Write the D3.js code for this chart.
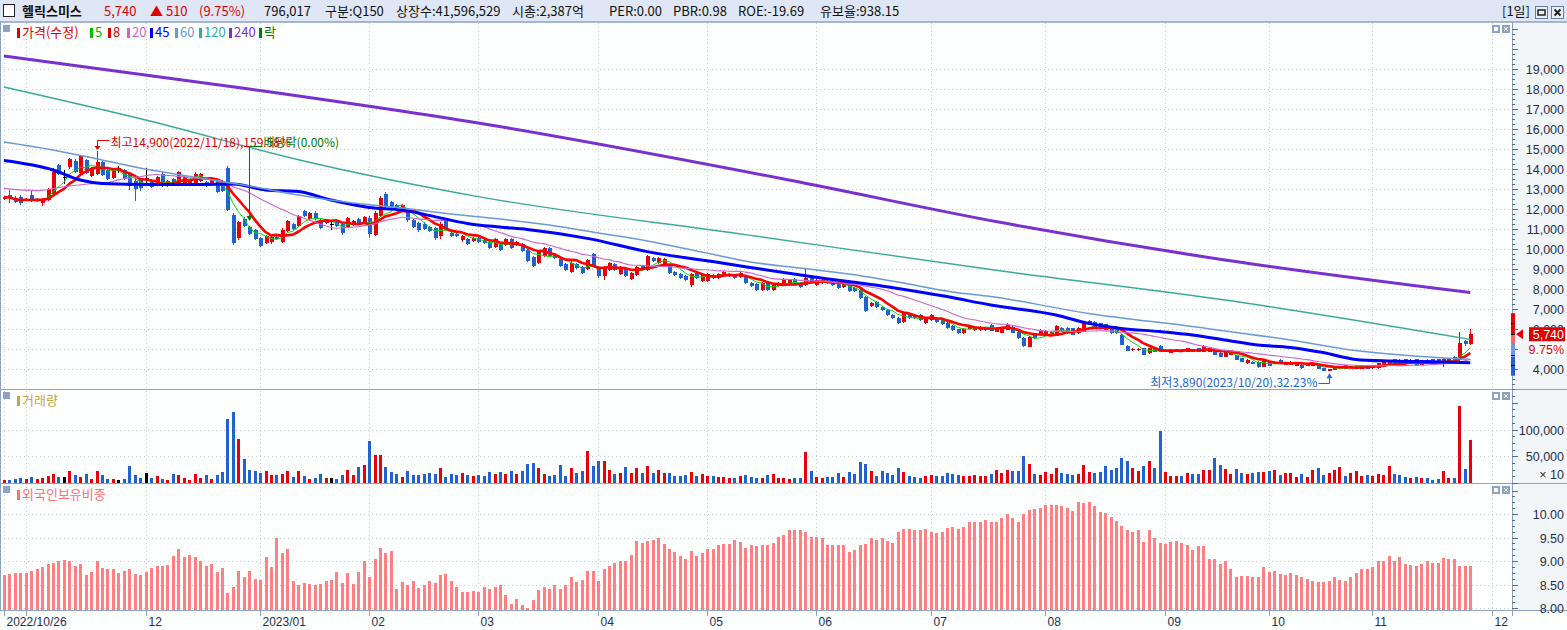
<!DOCTYPE html>
<html>
<head>
<meta charset="utf-8">
<title>헬릭스미스 일봉</title>
<script src="https://cdn.jsdelivr.net/npm/d3@7"></script>
<style>
  html, body { margin: 0; padding: 0; background: #fff; }
  svg { display: block; }
</style>
</head>
<body>
<svg id="chart" width="1567" height="630"></svg>
<script>
// ---------- data ----------
// trading calendar: weekdays from 2022-10-26, minus KRX holidays
var holidays = ["2022-12-30", "2023-01-23", "2023-01-24", "2023-03-01", "2023-05-01", "2023-05-05",
  "2023-05-29", "2023-06-06", "2023-08-15", "2023-09-28", "2023-09-29", "2023-10-02", "2023-10-03", "2023-10-09"];

var opens = [
  12500,12700,12550,12600,12450,12700,12400,12300,12450,12750,
  14200,13600,14100,14400,13800,14450,13650,13750,14350,13950,
  13550,14050,13950,13800,13400,13450,13550,13450,13200,13750,
  13200,13500,13250,13200,13300,13300,13400,13350,13250,13450,
  13400,14050,11700,10550,11500,11100,10950,10550,10300,10350,
  10600,10350,10900,11250,11150,11900,11500,11800,11450,11300,
  11250,11350,11250,11100,11200,11500,11300,11550,10700,11650,
  12750,12350,12200,11900,11950,11450,11300,11250,11100,11050,
  10650,11400,10800,10750,10450,10500,10400,10550,10450,10350,
  10100,10250,10200,10500,10200,10250,9950,9600,9300,9650,
  10050,9750,9500,9250,8850,9250,9100,9000,9750,9100,
  8650,8950,9250,8750,9000,8500,8700,9150,8950,9550,
  9300,9250,9150,8850,8750,8650,8200,8850,8400,8400,
  8700,8550,8650,8650,8700,8600,8650,8300,8250,7950,
  8350,7950,8150,8200,8200,8500,8300,8200,8600,8200,
  8300,8400,8350,8300,8100,8200,8050,7950,7600,7150,
  7350,7100,6950,6700,6550,6350,6750,6700,6700,6300,
  6450,6550,6450,6300,6150,5980,5780,6000,5950,5950,
  5950,6200,5870,5820,5950,6120,5870,5570,5120,5780,
  5700,5650,5650,5650,6030,6030,6030,5780,5870,6200,
  6370,6280,6230,6120,6120,5700,5150,4930,4950,5030,
  4780,5030,5150,4870,4820,4870,4980,4870,4980,5030,
  4870,4870,4950,4820,4620,4700,4700,4530,4280,4370,
  4370,4120,4370,4250,4450,4200,4200,4150,4200,4150,
  4150,4200,4030,3920,3950,4030,4200,4030,4000,4000,
  4150,4030,4030,4120,4150,4480,4450,4480,4250,4480,
  4200,4450,4480,4480,4320,4370,4620,4450,5400,5250
];
var highs = [
  12650,12950,12650,12700,12550,12900,12550,12550,13050,14050,
  14250,13950,14550,14500,14700,14500,14100,14900,14400,14000,
  14050,14150,14000,13850,13550,13500,14050,13500,13650,13850,
  13450,13550,13900,13650,13450,13850,13800,13400,13600,13500,
  13450,14150,11800,11400,11600,11150,11000,10600,10700,10700,
  10650,11050,11450,11300,11700,11950,11850,11900,11550,11450,
  11350,11400,11300,11600,11450,11550,11650,11650,11900,12650,
  12850,12400,12250,12250,12000,11500,11350,11350,11150,11100,
  11350,11450,10850,10800,10700,10550,10600,10600,10500,10400,
  10550,10300,10550,10550,10400,10300,10000,9650,9900,10100,
  10100,9800,9550,9300,9400,9300,9150,9500,9800,9150,
  9150,9350,9300,9150,9050,8850,9150,9200,9700,9600,
  9600,9550,9200,8900,8800,8700,8800,8900,8750,8800,
  8750,8800,8900,8800,8750,8850,8700,8350,8300,8350,
  8400,8250,8350,8550,8500,8550,8350,9050,8700,8500,
  8500,8450,8400,8350,8350,8250,8100,8000,7650,7350,
  7400,7150,7000,6750,6600,6850,6800,6750,6750,6600,
  6750,6600,6500,6350,6200,6020,6030,6200,6150,6150,
  6100,6250,6060,6060,6280,6150,5900,5600,5650,5800,
  5980,5930,5900,6180,6080,6080,6050,6100,6400,6430,
  6400,6300,6250,6150,6150,5730,5180,5030,5030,5050,
  5050,5050,5180,4980,4980,5000,5000,5050,5000,5050,
  5200,5050,4980,4850,4900,4900,4720,4550,4480,4400,
  4400,4480,4400,4400,4480,4350,4400,4350,4230,4300,
  4300,4230,4060,4000,4150,4170,4220,4170,4170,4170,
  4170,4220,4300,4400,4400,4500,4480,4500,4480,4500,
  4400,4480,4500,4500,4550,4560,4650,5870,5450,6000
];
var lows = [
  12450,12300,12300,12200,12400,12350,12350,12150,12400,12650,
  13700,13250,14000,13800,13750,13750,13600,13700,13650,13450,
  13500,13800,13450,12950,12400,12900,13300,13050,13150,13100,
  13100,13200,13200,13150,13250,13250,13350,13100,13200,12800,
  12850,11900,10200,10450,11100,10700,10450,10100,10250,10250,
  10450,10300,10850,10950,11100,11600,11450,11450,11000,11250,
  10950,11100,10700,11050,11150,11250,11250,10550,10650,11600,
  12000,12050,12050,11850,11350,11050,10850,10950,10850,10450,
  10500,10950,10600,10600,10350,10200,10350,10300,10250,10000,
  10050,9900,10150,10000,10150,9850,9350,9100,9250,9600,
  9600,9500,9100,8900,8800,9000,8750,8950,9100,8550,
  8450,8900,8900,8700,8600,8450,8650,8900,8900,9350,
  9250,9200,8750,8650,8500,8400,8100,8500,8350,8350,
  8500,8500,8600,8600,8500,8550,8250,8100,7900,7900,
  7900,7900,8100,8150,8150,8150,8050,8150,8250,8150,
  8250,8250,8150,8000,8050,7850,7850,7500,6850,7100,
  7050,6900,6650,6500,6250,6300,6500,6500,6400,6250,
  6400,6300,6200,6000,5900,5750,5750,5980,5920,5920,
  5900,5880,5850,5800,5930,5800,5500,5100,5080,5500,
  5680,5630,5630,5630,5850,5750,5680,5750,5850,6180,
  6100,6100,5930,5750,5750,5180,4900,4900,4920,4680,
  4750,4850,4850,4850,4800,4850,4850,4850,4850,4850,
  4850,4850,4680,4600,4600,4680,4430,4350,4250,4230,
  4050,4100,4130,4230,4250,4180,4180,4130,4000,4130,
  4130,3980,3900,3890,3930,4000,3980,4000,3980,3980,
  3980,4000,4000,4100,4130,4300,4250,4300,4230,4130,
  4180,4250,4300,4300,4080,4350,4430,4400,5150,5200
];
var closes = [
  12600,12550,12350,12300,12500,12400,12500,12450,13000,13850,
  13750,13600,14500,13850,14650,13800,14050,14350,13700,13500,
  14000,14050,13500,13150,13000,13050,13550,13100,13600,13150,
  13400,13250,13850,13600,13400,13750,13750,13150,13550,12850,
  12900,11950,10300,11350,11150,10750,10500,10150,10650,10600,
  10500,10950,11400,11000,11650,11650,11800,11500,11050,11400,
  11250,11150,10800,11550,11400,11300,11600,10750,11800,12550,
  12100,12100,12100,12200,11450,11100,10950,11000,10900,10550,
  11250,11000,10650,10650,10650,10250,10550,10350,10300,10050,
  10500,9950,10500,10050,10350,9900,9400,9150,9850,10050,
  9650,9550,9150,8950,9300,9050,8800,9450,9150,8650,
  9100,9300,8950,9100,8650,8800,9100,8950,9650,9400,
  9550,9500,8800,8700,8550,8450,8750,8550,8700,8750,
  8550,8750,8850,8750,8550,8800,8300,8150,7950,8300,
  7950,8200,8300,8500,8450,8200,8100,8550,8300,8450,
  8450,8300,8200,8050,8300,7900,7900,7550,6900,7300,
  7100,6950,6700,6550,6300,6800,6550,6550,6450,6550,
  6700,6350,6250,6050,5950,5780,6000,6170,6120,6120,
  6070,5920,6030,6030,6200,5820,5530,5150,5620,5530,
  5950,5900,5870,6150,5870,5780,5700,6070,6370,6400,
  6120,6120,5950,5780,5780,5200,4920,5000,5000,4700,
  5030,4870,4870,4950,4950,4980,4870,5030,4870,4870,
  5150,5030,4700,4620,4870,4870,4450,4370,4450,4250,
  4080,4450,4150,4370,4280,4320,4370,4320,4030,4280,
  4280,4000,3920,3980,4120,4150,4000,4150,4150,4150,
  4000,4200,4280,4370,4370,4320,4280,4320,4450,4150,
  4370,4280,4320,4320,4480,4530,4450,5320,5230,5740
];
// volume in units of 10 shares (axis shows "x 10")
var volumes = [
  5700,5700,7600,9600,7600,10800,7600,9600,12700,17200,
  11500,11500,22300,14700,10800,17200,7600,22300,14700,7600,
  7600,5700,7600,32500,14700,9600,18500,9600,12700,7600,
  5700,17200,14700,9600,5700,17200,9600,14700,7600,14700,
  21000,120400,131900,82200,44000,24800,22900,19100,22900,14700,
  14700,17200,22900,11500,22900,13400,7600,9600,17200,9600,
  9600,7600,14700,24800,14700,30600,34400,78400,51600,51600,
  30600,21000,17200,11500,22900,14700,14700,17200,19100,17200,
  28700,11500,17200,14700,19100,14700,13400,14700,13400,21000,
  17200,21000,17200,22900,17200,22900,36300,38200,28700,17200,
  13400,15300,34400,13400,28700,19100,22900,59200,32500,42000,
  42000,24800,17200,19100,30600,19100,28700,19100,32500,19100,
  24800,19100,19100,13400,13400,15300,21000,13400,17200,13400,
  13400,11500,11500,9600,9600,13400,15300,11500,9600,9600,
  15300,17200,9600,9600,7600,9600,9600,57300,22900,11500,
  9600,11500,11500,19100,11500,21000,17200,40100,36300,22900,
  13400,22900,19100,15300,28700,21000,13400,11500,9600,13400,
  15300,13400,13400,19100,17200,15300,13400,13400,15300,13400,
  13400,17200,24800,19100,24800,22900,22900,49700,36300,17200,
  15300,21000,17200,28700,19100,17200,15300,17200,34400,21000,
  19100,21000,32500,24800,28700,45900,42000,28700,22900,32500,
  42000,28700,97500,21000,13400,13400,13400,19100,17200,17200,
  24800,24800,45900,34400,26800,17200,26800,19100,17200,19100,
  21000,21000,22900,24800,15300,19100,19100,11500,17200,11500,
  24800,28700,15300,19100,24800,30600,13400,19100,22900,13400,
  15300,13400,17200,15300,32500,17200,15300,11500,9600,11500,
  9600,9600,5700,7600,22900,9600,9600,143300,26800,79602
];
// foreign ownership ratio, %
var foreignRatio = [
  8.70,8.72,8.74,8.75,8.75,8.78,8.82,8.88,8.94,8.96,
  8.99,9.03,9.01,8.90,8.94,8.71,8.77,8.99,8.86,8.84,
  8.82,8.75,8.79,8.82,8.73,8.71,8.77,8.86,8.90,8.90,
  8.92,9.11,9.26,9.09,9.13,9.09,9.01,8.90,8.94,8.77,
  8.86,8.31,8.45,8.79,8.65,8.79,8.62,8.60,9.09,8.88,
  9.48,9.18,9.26,8.58,8.48,8.54,8.52,8.50,8.52,8.58,
  8.60,8.77,8.54,8.75,8.52,8.77,8.99,8.65,9.05,9.28,
  9.18,9.22,8.41,8.56,8.50,8.58,8.43,8.50,8.58,8.54,
  8.71,8.73,8.58,8.45,8.33,8.35,8.37,8.33,8.45,8.41,
  8.45,8.48,8.28,8.09,8.20,8.07,8.01,8.18,8.39,8.45,
  8.41,8.50,8.41,8.48,8.65,8.56,8.60,8.79,8.79,8.58,
  8.82,8.90,8.96,8.99,8.99,9.13,9.43,9.39,9.43,9.45,
  9.50,9.37,9.26,9.20,9.11,9.05,9.22,9.11,9.16,9.26,
  9.26,9.35,9.37,9.37,9.45,9.41,9.28,9.33,9.31,9.35,
  9.33,9.39,9.52,9.56,9.65,9.67,9.67,9.62,9.52,9.52,
  9.48,9.35,9.35,9.33,9.33,9.20,9.24,9.35,9.37,9.48,
  9.45,9.50,9.43,9.39,9.62,9.69,9.69,9.67,9.67,9.69,
  9.62,9.60,9.62,9.71,9.73,9.69,9.73,9.82,9.82,9.84,
  9.88,9.82,9.84,9.92,10.01,9.92,9.84,9.99,10.09,10.11,
  10.13,10.20,10.20,10.20,10.18,10.13,10.07,10.26,10.24,10.26,
  10.16,10.05,10.03,9.94,9.86,9.75,9.67,9.62,9.67,9.41,
  9.65,9.48,9.39,9.37,9.41,9.43,9.39,9.35,9.24,9.31,
  9.31,9.05,9.05,8.94,8.99,8.82,8.67,8.69,8.69,8.65,
  8.65,8.88,8.77,8.79,8.73,8.71,8.75,8.71,8.65,8.62,
  8.58,8.56,8.56,8.58,8.67,8.60,8.58,8.65,8.75,8.82,
  8.82,8.88,8.99,9.01,9.11,8.99,9.09,8.94,8.92,8.90,
  8.94,8.99,8.96,8.96,9.07,9.05,9.05,8.90,8.90,8.90
];
// long moving averages as [bar, value] (they need history before the first bar)
var ma20Lead = [[0, 13030], [6, 12920], [12, 13150], [18, 13300]];
var ma45Pts = [[0,14420],[9,13950],[14,13450],[18,13280],[27,13230],[36,13230],[42,13250],[48,12950],[54,12870],
  [60,12450],[67,12080],[73,11950],[79,11620],[85,11280],[91,11100],[96,10980],[107,10530],[118,9870],[130,9370],
  [148,8620],[164,8030],[173,7620],[181,7200],[193,6700],[199,6280],[205,6030],[212,5870],[218,5700],[224,5450],
  [230,5200],[236,5080],[242,4820],[248,4480],[254,4400],[260,4370],[269,4310]];
var ma60Pts = [[0,15350],[9,14950],[18,14450],[27,13950],[36,13550],[45,13150],[54,12700],[64,12300],[73,12050],
  [82,11750],[91,11500],[100,11200],[109,10800],[118,10400],[128,9850],[137,9350],[146,9050],[155,8750],[164,8350],
  [174,7850],[181,7620],[199,6780],[218,6120],[236,5450],[248,4920],[260,4620],[269,4480]];
var ma120Pts = [[0,18100],[26,16450],[55,14400],[87,12620],[136,10720],[183,8900],[224,7450],[269,5480]];
var ma240Pts = [[0,19650],[45,18000],[87,16300],[144,13450],[183,11320],[224,9450],[269,7820]];

var priceTicks = [4000,5000,6000,7000,8000,9000,10000,11000,12000,13000,14000,15000,16000,17000,18000,19000];
var volumeTicks = [50000, 100000];
var foreignTicks = [8.0, 8.5, 9.0, 9.5, 10.0];
var prevClose = 5230, upperLimit = 6790, lowerLimit = 3665;

// ---------- layout ----------
var svg = d3.select("#chart");
var W = 1567, H = 630, AX = 1512;
var KR = "'Noto Sans CJK KR','Noto Sans',sans-serif";
var NUM = "'Liberation Sans',Arial,sans-serif";
var EDGE = "#8ea2c3", AXTXT = "#22304e";
var N = closes.length;

var x = d3.scaleLinear().domain([0, 269]).range([3.9, 1470.3]);
var yP = d3.scaleLinear().domain([4000, 19000]).range([369, 69]);
var yV = d3.scaleLinear().domain([0, 100000]).range([483, 429.5]);
var yF = d3.scaleLinear().domain([8, 10]).range([608, 514]);

// trading days (extended a few days past the data so the "12" tick exists)
var fmtDay = d3.timeFormat("%Y-%m-%d");
var hol = new Set(holidays);
var days = d3.timeDay.range(new Date(2022, 9, 26), new Date(2023, 11, 2))
  .filter(function (d) { return d.getDay() !== 0 && d.getDay() !== 6 && !hol.has(fmtDay(d)); });
var monthTicks = [];
days.forEach(function (d, i) {
  if (i === 0 || d.getMonth() !== days[i - 1].getMonth()) monthTicks.push({ i: i, d: d });
});

// backgrounds
svg.append("rect").attr("width", W).attr("height", H).attr("fill", "#fdfefe");
svg.append("rect").attr("x", AX).attr("y", 22).attr("width", W - AX).attr("height", 588).attr("fill", "#f3f6f9");

// ---------- grid ----------
var grid = svg.append("g").attr("stroke", "#c4cad3").attr("stroke-dasharray", "1,3").attr("shape-rendering", "crispEdges");
priceTicks.forEach(function (v) {
  grid.append("line").attr("x1", 0).attr("x2", AX).attr("y1", Math.round(yP(v)) + .5).attr("y2", Math.round(yP(v)) + .5);
});
volumeTicks.forEach(function (v) {
  grid.append("line").attr("x1", 0).attr("x2", AX).attr("y1", Math.round(yV(v)) + .5).attr("y2", Math.round(yV(v)) + .5);
});
foreignTicks.forEach(function (v) {
  grid.append("line").attr("x1", 0).attr("x2", AX).attr("y1", Math.round(yF(v)) + .5).attr("y2", Math.round(yF(v)) + .5);
});
monthTicks.forEach(function (t) {
  var xx = Math.round(x(t.i)) + .5;
  grid.append("line").attr("x1", xx).attr("x2", xx).attr("y1", 23).attr("y2", 609);
});

// ---------- price panel ----------
svg.append("clipPath").attr("id", "pclip").append("rect").attr("x", 0).attr("y", 23).attr("width", AX).attr("height", 365);
var pg = svg.append("g").attr("clip-path", "url(#pclip)");

var candleColor = function (i) {
  return closes[i] > opens[i] ? "#e8000b" : closes[i] < opens[i] ? "#1f62d0" : "#000";
};
var bars = d3.range(N);
var cg = pg.append("g").attr("shape-rendering", "crispEdges");
cg.selectAll("line").data(bars).enter().append("line")
  .attr("x1", function (i) { return Math.round(x(i)) + .5; })
  .attr("x2", function (i) { return Math.round(x(i)) + .5; })
  .attr("y1", function (i) { return yP(highs[i]); })
  .attr("y2", function (i) { return yP(lows[i]); })
  .attr("stroke", candleColor);
cg.selectAll("rect").data(bars).enter().append("rect")
  .attr("x", function (i) { return Math.round(x(i)) - 1.5; })
  .attr("width", 4)
  .attr("y", function (i) { return yP(Math.max(opens[i], closes[i])); })
  .attr("height", function (i) { return Math.max(1.2, Math.abs(yP(opens[i]) - yP(closes[i]))); })
  .attr("fill", candleColor);

function movingAvg(n) {
  return closes.map(function (c, i) { return [i, d3.mean(closes.slice(Math.max(0, i - n + 1), i + 1))]; });
}
var ma5 = movingAvg(5), ma8 = movingAvg(8);
var ma20 = ma20Lead.concat(movingAvg(20).slice(19));

var straight = d3.line().x(function (d) { return x(d[0]); }).y(function (d) { return yP(d[1]); });
var smooth = d3.line().x(function (d) { return x(d[0]); }).y(function (d) { return yP(d[1]); }).curve(d3.curveMonotoneX);

var maLines = [
  { pts: ma5, color: "#00dd00", w: 1, gen: straight },
  { pts: ma8, color: "#ff0000", w: 2.6, gen: straight },
  { pts: ma20, color: "#cc66cc", w: 1.1, gen: smooth },
  { pts: ma45Pts, color: "#0000ff", w: 3, gen: smooth },
  { pts: ma60Pts, color: "#6a9ad6", w: 1.5, gen: smooth },
  { pts: ma120Pts, color: "#3aaa98", w: 1.4, gen: smooth },
  { pts: ma240Pts, color: "#7a30d0", w: 3, gen: smooth }
];
maLines.forEach(function (m) {
  pg.append("path").attr("d", m.gen(m.pts)).attr("fill", "none")
    .attr("stroke", m.color).attr("stroke-width", m.w).attr("stroke-linejoin", "round");
});

// high / ex-dividend / low annotations
var hiIdx = d3.maxIndex(highs), loIdx = d3.minIndex(lows), exDivIdx = 45;
var hx = Math.round(x(hiIdx)) + .5;
pg.append("path").attr("d", "M" + (hx + 12) + "," + 140.5 + "H" + hx + "V" + (yP(highs[hiIdx]) - 4))
  .attr("fill", "none").attr("stroke", "#e00000");
pg.append("path").attr("d", "M" + (hx - 3) + "," + (yP(highs[hiIdx]) - 5) + "h6l-3,4z").attr("fill", "#e00000");
pg.append("text").attr("x", hx + 13).attr("y", 147).attr("font-family", KR).attr("font-size", 12)
  .attr("fill", "#e00000").text("최고14,900(2022/11/18),159.58%");

var ex = Math.round(x(exDivIdx)) + .5;
pg.append("path").attr("d", "M" + (ex + 13) + ",146.5H" + ex + "V218").attr("fill", "none").attr("stroke", "#007a00");
pg.append("path").attr("d", "M" + (ex - 3) + ",216h6l-3,5z").attr("fill", "#007a00");
pg.append("text").attr("x", ex + 14).attr("y", 147).attr("font-family", KR).attr("font-size", 12)
  .attr("fill", "#007a00").text("배당락(0.00%)");

var lx = Math.round(x(loIdx)) + .5;
pg.append("path").attr("d", "M" + (lx - 11) + ",383.5H" + lx + "V" + (yP(lows[loIdx]) + 6))
  .attr("fill", "none").attr("stroke", "#2266cc");
pg.append("path").attr("d", "M" + (lx - 3) + "," + (yP(lows[loIdx]) + 7) + "h6l-3,-5z").attr("fill", "#2266cc");
pg.append("text").attr("x", lx - 12).attr("y", 387).attr("text-anchor", "end").attr("font-family", KR)
  .attr("font-size", 12).attr("fill", "#2266cc").text("최저3,890(2023/10/20),32.23%");

// ---------- volume panel ----------
svg.append("g").attr("shape-rendering", "crispEdges").selectAll("rect").data(bars).enter().append("rect")
  .attr("x", function (i) { return Math.round(x(i)) - 1.5; })
  .attr("width", 3.6)
  .attr("y", function (i) { return yV(volumes[i]); })
  .attr("height", function (i) { return yV(0) - yV(volumes[i]); })
  .attr("fill", candleColor);

// ---------- foreign ownership panel ----------
svg.append("g").attr("shape-rendering", "crispEdges").selectAll("rect").data(bars).enter().append("rect")
  .attr("x", function (i) { return Math.round(x(i)) - 1.5; })
  .attr("width", 3.6)
  .attr("y", function (i) { return yF(foreignRatio[i]); })
  .attr("height", function (i) { return 610 - yF(foreignRatio[i]); })
  .attr("fill", "#ff8080");

// ---------- frames ----------
var fr = svg.append("g").attr("stroke", EDGE).attr("shape-rendering", "crispEdges");
[389, 483, 610].forEach(function (y) {
  fr.append("line").attr("x1", 0).attr("x2", W).attr("y1", y + .5).attr("y2", y + .5).attr("stroke-width", 1.5);
});
fr.append("line").attr("x1", AX + .5).attr("x2", AX + .5).attr("y1", 22).attr("y2", 616).attr("stroke-width", 1.5);
fr.append("line").attr("x1", .5).attr("x2", .5).attr("y1", 22).attr("y2", 610);

// ---------- right axes ----------
var ax = svg.append("g");
function tickMarks(scale, from, to, step, majorStep) {
  d3.range(from, to + step / 2, step).forEach(function (v) {
    var y = Math.round(scale(v)) + .5;
    var major = Math.abs(v / majorStep - Math.round(v / majorStep)) < 1e-6;
    ax.append("line").attr("x1", AX).attr("x2", AX + (major ? 6 : 3)).attr("y1", y).attr("y2", y)
      .attr("stroke", "#5a6b8a").attr("shape-rendering", "crispEdges");
  });
}
tickMarks(yP, 3250, 21000, 250, 1000);
tickMarks(yV, 0, 170000, 12500, 50000);
tickMarks(yF, 8, 10.5, 0.125, 0.5);

var ly = yP(closes[N - 1]);
// the label that sits fully under the change-rate box is not shown in the original
priceTicks.filter(function (v) { return Math.abs(yP(v) - (ly + 15)) > 6; }).forEach(function (v) {
  ax.append("text").attr("x", 1564).attr("y", yP(v) + 5).attr("text-anchor", "end")
    .attr("font-family", NUM).attr("font-size", 12.5).attr("fill", AXTXT).text(d3.format(",")(v));
});
volumeTicks.forEach(function (v) {
  ax.append("text").attr("x", 1564).attr("y", yV(v) + 5).attr("text-anchor", "end")
    .attr("font-family", NUM).attr("font-size", 12.5).attr("fill", AXTXT).text(d3.format(",")(v));
});
ax.append("text").attr("x", 1564).attr("y", 479).attr("text-anchor", "end")
  .attr("font-family", NUM).attr("font-size", 12.5).attr("fill", AXTXT).text("× 10");
foreignTicks.forEach(function (v) {
  ax.append("text").attr("x", 1564).attr("y", yF(v) + 5).attr("text-anchor", "end")
    .attr("font-family", NUM).attr("font-size", 12.5).attr("fill", AXTXT).text(d3.format(".2f")(v));
});

// daily price-limit band and last price marker
var band = [[upperLimit, closes[N - 1], "#e60000"], [closes[N - 1], prevClose, "#ee6a6a"],
  [prevClose, 4600, "#6e9be0"], [4600, lowerLimit, "#1f62d0"]];
band.forEach(function (b) {
  ax.append("rect").attr("x", AX - 1).attr("width", 4).attr("y", yP(b[0])).attr("height", yP(b[1]) - yP(b[0])).attr("fill", b[2]);
});
[1.2, 1.1, 0.9, 0.8].forEach(function (k) {
  var y = Math.round(yP(prevClose * k)) + .5;
  ax.append("line").attr("x1", AX - 1).attr("x2", AX + 3).attr("y1", y).attr("y2", y).attr("stroke", "#000");
});
ax.append("path").attr("d", "M" + (AX + 4) + "," + ly + "l7,-5v10z").attr("fill", "#e00000");
ax.append("rect").attr("x", 1529).attr("y", ly - 7).attr("width", 36).attr("height", 14).attr("fill", "#e00000");
ax.append("text").attr("x", 1564).attr("y", ly + 5).attr("text-anchor", "end").attr("font-family", NUM)
  .attr("font-size", 12.5).attr("fill", "#fff").text(d3.format(",")(closes[N - 1]));
ax.append("rect").attr("x", 1530).attr("y", ly + 8).attr("width", 35).attr("height", 14).attr("fill", "#fff");
ax.append("text").attr("x", 1564).attr("y", ly + 20).attr("text-anchor", "end").attr("font-family", NUM)
  .attr("font-size", 12.5).attr("fill", "#e00000").text(d3.format(".2%")(closes[N - 1] / prevClose - 1));

// ---------- x axis ----------
var lastLabelX = -100;
monthTicks.forEach(function (t) {
  var xx = Math.round(x(t.i)) + .5;
  svg.append("line").attr("x1", xx).attr("x2", xx).attr("y1", 611).attr("y2", 616).attr("stroke", EDGE);
  var label = t.i === 0 ? d3.timeFormat("%Y/%m/%d")(t.d)
    : t.d.getMonth() === 0 ? d3.timeFormat("%Y/%m")(t.d) : d3.timeFormat("%m")(t.d);
  if (xx - lastLabelX < 60) return;
  lastLabelX = xx;
  svg.append("text").attr("x", xx + 2).attr("y", 626).attr("font-family", NUM).attr("font-size", 12)
    .attr("fill", AXTXT).text(label);
});

// ---------- header ----------
svg.append("rect").attr("width", W).attr("height", 22).attr("fill", "#dfe7f6");
svg.append("line").attr("x1", 0).attr("x2", W).attr("y1", 22).attr("y2", 22).attr("stroke", EDGE).attr("stroke-width", 1.5);
svg.append("rect").attr("x", 3.5).attr("y", 4.5).attr("width", 11).attr("height", 12).attr("fill", "#fff").attr("stroke", "#222");
var headerItems = [
  ["헬릭스미스", 22, "#111", "bold"], ["5,740", 104, "#e00000"], ["▲ 510", 150, "#e00000"], ["(9.75%)", 199, "#e00000"],
  ["796,017", 264, "#111"], ["구분:Q150", 325, "#111"], ["상장수:41,596,529", 396, "#111"], ["시총:2,387억", 512, "#111"],
  ["PER:0.00", 609, "#111"], ["PBR:0.98", 673, "#111"], ["ROE:-19.69", 738, "#111"], ["유보율:938.15", 820, "#111"]
];
headerItems.forEach(function (h) {
  svg.append("text").attr("x", h[1]).attr("y", 16).attr("font-family", KR).attr("font-size", 13)
    .attr("font-weight", h[3] || "normal").attr("fill", h[2]).text(h[0]);
});
svg.append("text").attr("x", 1502).attr("y", 16).attr("font-family", KR).attr("font-size", 13).attr("fill", "#111").text("[1일]");
[1535, 1551].forEach(function (bx, k) {
  svg.append("rect").attr("x", bx + .5).attr("y", 6.5).attr("width", 12).attr("height", 12)
    .attr("fill", "#e9eef7").attr("stroke", "#6b7a95");
  if (k === 0) svg.append("rect").attr("x", bx + 3).attr("y", 10).attr("width", 7).attr("height", 5).attr("fill", "none").attr("stroke", "#222").attr("stroke-width", 1.5);
  else svg.append("path").attr("d", "M" + (bx + 3.5) + ",9.5l6,6m0,-6l-6,6").attr("stroke", "#222").attr("stroke-width", 2);
});

// ---------- panel legends & small buttons ----------
function panelButtons(y) {
  [1492, 1502].forEach(function (bx, k) {
    svg.append("rect").attr("x", bx).attr("y", y).attr("width", 8).attr("height", 8).attr("fill", "#8ea2c3");
    if (k === 0) svg.append("rect").attr("x", bx + 2).attr("y", y + 2).attr("width", 4).attr("height", 4).attr("fill", "#fff");
    else svg.append("path").attr("d", "M" + (bx + 2) + "," + (y + 2) + "l4,4m0,-4l-4,4").attr("stroke", "#fff");
  });
}
panelButtons(25); panelButtons(392); panelButtons(486);

var priceLegend = [
  ["가격(수정)", "#e00000", 17], ["5", "#00c000", 90], ["8", "#e00000", 108], ["20", "#cc66cc", 127],
  ["45", "#0000ee", 150], ["60", "#6a9ad6", 175], ["120", "#3aaa98", 199], ["240", "#7a30d0", 229], ["락", "#008000", 259]
];
function legendRow(items, y) {
  items.forEach(function (it) {
    svg.append("rect").attr("x", it[2]).attr("y", y - 9).attr("width", 3).attr("height", 10).attr("fill", it[1]);
    svg.append("text").attr("x", it[2] + 5).attr("y", y).attr("font-family", KR).attr("font-size", 13)
      .attr("fill", it[1]).text(it[0]);
  });
}
svg.append("rect").attr("x", 3).attr("y", 25).attr("width", 7).attr("height", 7).attr("fill", "#8ea2c3");
legendRow(priceLegend, 37);
svg.append("rect").attr("x", 3).attr("y", 392).attr("width", 7).attr("height", 7).attr("fill", "#8ea2c3");
legendRow([["거래량", "#c4a83a", 17]], 405);
svg.append("rect").attr("x", 3).attr("y", 486).attr("width", 7).attr("height", 7).attr("fill", "#8ea2c3");
legendRow([["외국인보유비중", "#ff7070", 17]], 499);
</script>
</body>
</html>
